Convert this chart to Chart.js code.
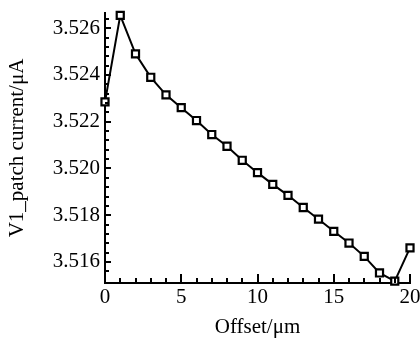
<!DOCTYPE html>
<html>
<head>
<meta charset="utf-8">
<script src="https://cdn.jsdelivr.net/npm/chart.js@4/dist/chart.umd.min.js"></script>
<style>
  html, body { margin: 0; padding: 0; background: #fff; }
  #wrap { width: 420px; height: 341px; }
</style>
</head>
<body>
<div id="wrap"><canvas id="offsetChart" width="420" height="341"></canvas></div>
<script>
// offset positions (um) and measured patch current (uA)
const offsets = [0, 1, 2, 3, 4, 5, 6, 7, 8, 9, 10, 11, 12, 13, 14, 15, 16, 17, 18, 19, 20];
const currents = [3.52285, 3.52655, 3.52490, 3.52390, 3.52315, 3.52260, 3.52205, 3.52145, 3.52095,
    3.52035, 3.51982, 3.51932, 3.51885, 3.51833, 3.51783, 3.51731, 3.51681, 3.51624, 3.51553,
    3.51518, 3.51660];

const xTicks = [0, 5, 10, 15, 20];
const yTicks = [3.516, 3.518, 3.520, 3.522, 3.524, 3.526];
const xMinor = [1, 2, 3, 4, 6, 7, 8, 9, 11, 12, 13, 14, 16, 17, 18, 19];
const yMinor = [3.5156, 3.5164, 3.5168, 3.5172, 3.5176, 3.5184, 3.5188, 3.5192, 3.5196,
    3.5204, 3.5208, 3.5212, 3.5216, 3.5224, 3.5228, 3.5232, 3.5236, 3.5244, 3.5248, 3.5252,
    3.5256, 3.5264];

const serif = "'Liberation Serif', 'Times New Roman', serif";

// ticks point inwards, so draw them ourselves from the scales
const inwardTicks = {
    id: 'inwardTicks',
    afterDraw(chart) {
        const { ctx, chartArea } = chart;
        const x = chart.scales.x;
        const y = chart.scales.y;
        ctx.save();
        ctx.strokeStyle = '#000';
        ctx.lineWidth = 2;
        ctx.beginPath();
        xTicks.forEach(v => {
            const px = Math.round(x.getPixelForValue(v));
            ctx.moveTo(px, chartArea.bottom);
            ctx.lineTo(px, chartArea.bottom - 9);
        });
        xMinor.forEach(v => {
            const px = Math.round(x.getPixelForValue(v));
            ctx.moveTo(px, chartArea.bottom);
            ctx.lineTo(px, chartArea.bottom - 5);
        });
        yTicks.forEach(v => {
            const py = Math.round(y.getPixelForValue(v));
            ctx.moveTo(chartArea.left, py);
            ctx.lineTo(chartArea.left + 6, py);
        });
        yMinor.forEach(v => {
            const py = Math.round(y.getPixelForValue(v));
            ctx.moveTo(chartArea.left, py);
            ctx.lineTo(chartArea.left + 4, py);
        });
        ctx.stroke();
        ctx.restore();
    }
};

const ctx = document.getElementById('offsetChart').getContext('2d');
new Chart(ctx, {
    type: 'line',
    data: {
        datasets: [{
            data: offsets.map((v, i) => ({ x: v, y: currents[i] })),
            borderColor: '#000',
            borderWidth: 2,
            pointStyle: 'rect',
            pointRadius: 5,
            pointBorderWidth: 2.2,
            pointBackgroundColor: '#fff',
            pointBorderColor: '#000',
            tension: 0,
            clip: false
        }]
    },
    options: {
        responsive: false,
        animation: false,
        devicePixelRatio: 1,
        layout: { padding: { left: 0, right: 10, top: 13, bottom: 0 } },
        plugins: {
            legend: { display: false },
            tooltip: { enabled: false }
        },
        scales: {
            x: {
                type: 'linear',
                min: 0,
                max: 20,
                afterBuildTicks: s => { s.ticks = xTicks.map(v => ({ value: v })); },
                afterFit: s => {
                    s.height = 58;
                    s.paddingLeft = 0;
                    s.paddingRight = 0;
                },
                grid: { display: false, drawTicks: false },
                border: { display: true, color: '#000', width: 2 },
                ticks: {
                    color: '#000',
                    padding: 2,
                    maxRotation: 0,
                    font: { family: serif, size: 21 }
                },
                title: {
                    display: true,
                    text: 'Offset/μm',
                    color: '#000',
                    padding: { top: 2, bottom: 1 },
                    font: { family: serif, size: 21 }
                }
            },
            y: {
                type: 'linear',
                min: 3.5151,
                max: 3.52665,
                afterBuildTicks: s => { s.ticks = yTicks.map(v => ({ value: v })); },
                afterFit: s => {
                    s.width = 105;
                    s.paddingTop = 0;
                    s.paddingBottom = 0;
                },
                grid: { display: false, drawTicks: false },
                border: { display: true, color: '#000', width: 2 },
                ticks: {
                    color: '#000',
                    padding: 5,
                    font: { family: serif, size: 21 },
                    callback: v => v.toFixed(3)
                },
                title: {
                    display: true,
                    text: 'V1_patch current/μA',
                    color: '#000',
                    padding: { top: 5, bottom: 0 },
                    font: { family: serif, size: 21 }
                }
            }
        }
    },
    plugins: [inwardTicks]
});
</script>
</body>
</html>
